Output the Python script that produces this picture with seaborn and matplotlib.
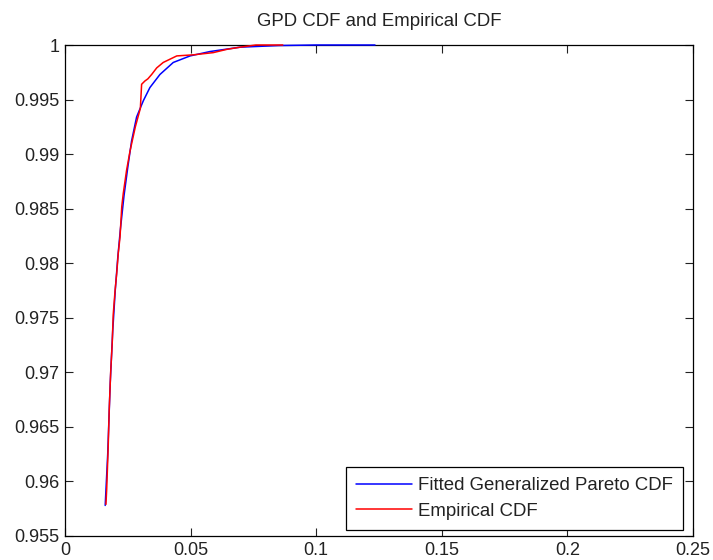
import matplotlib
matplotlib.use("Agg")
import matplotlib.pyplot as plt
import seaborn as sns
import pandas as pd

# Fitted GPD CDF (smooth curve)
gpd_x = [0.0160, 0.0170, 0.0180, 0.0190, 0.0200, 0.0210, 0.0220, 0.0235, 0.0250,
         0.0265, 0.0285, 0.0312, 0.0338, 0.0378, 0.0431, 0.0498, 0.0577, 0.0697,
         0.0850, 0.1000, 0.1234]
gpd_y = [0.9578, 0.9625, 0.9690, 0.9738, 0.9775, 0.9805, 0.9830, 0.9862, 0.9888,
         0.9912, 0.9934, 0.9949, 0.9961, 0.9973, 0.9984, 0.9990, 0.9994, 0.9998,
         0.99995, 1.0, 1.0]

# Empirical CDF
emp_x = [0.0163, 0.0166, 0.0172, 0.0176, 0.0182, 0.0188, 0.0192, 0.0199, 0.0206,
         0.0212, 0.0219, 0.0226, 0.0232, 0.0245, 0.0259, 0.0280, 0.0300, 0.0305,
         0.0318, 0.0330, 0.0345, 0.0365, 0.0391, 0.0445, 0.0511, 0.0590, 0.0644,
         0.0697, 0.0760, 0.0867]
emp_y = [0.9579, 0.9593, 0.9632, 0.9666, 0.9701, 0.9727, 0.9753, 0.9774, 0.9791,
         0.9809, 0.9824, 0.9852, 0.9864, 0.9885, 0.9903, 0.9925, 0.9942, 0.9964,
         0.9967, 0.9969, 0.9973, 0.9979, 0.9984, 0.9990, 0.9991, 0.9993, 0.9996,
         0.9998, 1.0, 1.0]

x_ticks = [0, 0.05, 0.1, 0.15, 0.2, 0.25]
x_labels = ["0", "0.05", "0.1", "0.15", "0.2", "0.25"]
y_ticks = [0.955, 0.96, 0.965, 0.97, 0.975, 0.98, 0.985, 0.99, 0.995, 1.0]
y_labels = ["0.955", "0.96", "0.965", "0.97", "0.975", "0.98", "0.985", "0.99", "0.995", "1"]

sns.set_style("ticks")
plt.rcParams["font.family"] = ["Liberation Sans", "DejaVu Sans"]

fig = plt.figure(figsize=(7.13, 5.6), dpi=100)
ax = fig.add_axes([65 / 713, 24 / 560, 628 / 713, 491 / 560])

gpd_df = pd.DataFrame({"x": gpd_x, "y": gpd_y})
emp_df = pd.DataFrame({"x": emp_x, "y": emp_y})

sns.lineplot(data=gpd_df, x="x", y="y", ax=ax, color="#0000ff", lw=1.1,
             label="Fitted Generalized Pareto CDF", sort=False, clip_on=False,
             zorder=3)
sns.lineplot(data=emp_df, x="x", y="y", ax=ax, color="#ff0000", lw=1.1,
             label="Empirical CDF", sort=False, clip_on=False, zorder=4)

ax.set_xlim(0, 0.25)
ax.set_ylim(0.955, 1.0)
ax.set_xticks(x_ticks)
ax.set_xticklabels(x_labels)
ax.set_yticks(y_ticks)
ax.set_yticklabels(y_labels)
ax.set_xlabel("")
ax.set_ylabel("")
ax.tick_params(direction="in", top=True, right=True, length=6, width=0.8,
               labelsize=13, colors="#222222", pad=4)
for s in ax.spines.values():
    s.set_visible(True)
    s.set_color("black")
    s.set_linewidth(0.9)

ax.set_title("GPD CDF and Empirical CDF", fontsize=13.4, pad=14, color="#222222")

leg = ax.legend(loc="lower right", bbox_to_anchor=(0.984, 0.012),
                borderaxespad=0, fontsize=13.4, frameon=True, fancybox=False,
                edgecolor="black", framealpha=1,
                handlelength=3.0, handletextpad=0.33, borderpad=0.55,
                labelspacing=0.45)
leg.get_frame().set_linewidth(0.9)
for t in leg.get_texts():
    t.set_color("#222222")

fig.savefig("out.png", dpi=100)
